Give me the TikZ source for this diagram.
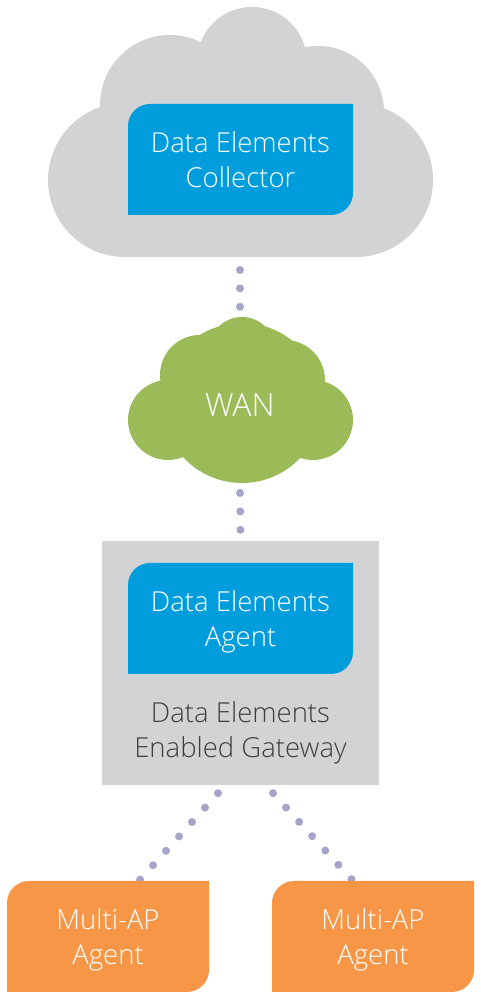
\documentclass[tikz,border=0pt]{standalone}
\usepackage{fontspec}
\setmainfont{Open Sans Light}
\usetikzlibrary{backgrounds}
\definecolor{cloudgray}{HTML}{D1D3D4}
\definecolor{deblue}{HTML}{009DDC}
\definecolor{wangreen}{HTML}{9BBB59}
\definecolor{maporange}{HTML}{F79646}
\definecolor{linkdot}{HTML}{A5A5C9}
\definecolor{gwtext}{HTML}{404040}

\begin{document}
\begin{tikzpicture}[x=1pt,y=1pt,
    leaf/.style={minimum width=225pt,minimum height=111pt,inner sep=0pt,
      text=white,align=center,text depth=0pt,font=\fontsize{27.5}{35}\selectfont,
      path picture={\path[fill=#1] (path picture bounding box.south west)
        -- ([yshift=-22pt]path picture bounding box.north west)
        arc[start angle=180,end angle=90,radius=22pt]
        -- (path picture bounding box.north east)
        -- ([yshift=22pt]path picture bounding box.south east)
        arc[start angle=0,end angle=-90,radius=22pt] -- cycle;}},
    dotlink/.style={draw=linkdot,line width=8pt,line cap=round,
      dash pattern=on 0pt off #1},
    dotlink/.default=18.4pt]
    \useasboundingbox (0,0) rectangle (481,1000);
    \begin{scope}
      \path[fill=cloudgray] (125,820) circle[radius=77] (356,820) circle[radius=77]
        (170,895) circle[radius=70] (252,938) circle[radius=55] (318,888) circle[radius=66];
      \path[fill=cloudgray] (120,743) rectangle (360,900);
      \node[leaf=deblue] (collector) at (240.5,840.5) {Data Elements\\Collector};
      \coordinate (cloudbase) at (240,730);
    \end{scope}
    \begin{scope}
      \path[fill=wangreen] (242,650) circle[radius=33] (200,625) circle[radius=40]
        (285,620) circle[radius=40] (168,580) circle[radius=40]
        (313,580) circle[radius=40] (242,597) circle[radius=80];
      \node[text=white,font=\fontsize{32}{38}\selectfont] (wan) at (240,595) {WAN};
      \coordinate (wantop) at (240,693);
      \coordinate (wanbase) at (240,507);
    \end{scope}
    \begin{scope}
      \node[fill=cloudgray,minimum width=277pt,minimum height=244pt] (gateway) at (240.5,337) {};
      \node[leaf=deblue] (agent) at (240.5,381.5) {Data Elements\\Agent};
      \node[text=gwtext,align=center,font=\fontsize{27.5}{35}\selectfont] (gwlabel) at (240.5,267)
        {Data Elements\\Enabled Gateway};
      \coordinate (gwtop) at ([yshift=11pt]gateway.north);
      \coordinate (gwleft) at ([shift={(-22.5pt,-8pt)}]gateway.south);
      \coordinate (gwright) at ([shift={(32.5pt,-8pt)}]gateway.south);
    \end{scope}
    \begin{scope}
      \node[leaf=maporange,minimum width=202pt] (map1) at (108,63.5) {Multi-AP\\Agent};
      \node[leaf=maporange,minimum width=202pt] (map2) at (373,63.5) {Multi-AP\\Agent};
      \coordinate (map1top) at ([shift={(32pt,1pt)}]map1.north);
      \coordinate (map2top) at ([shift={(-21pt,1pt)}]map2.north);
    \end{scope}
    \begin{scope}[on background layer]
      \draw[dotlink] (cloudbase) -- (wantop);
      \draw[dotlink] (wanbase) -- (gwtop);
      \draw[dotlink=19.4pt] (gwleft) -- (map1top);
      \draw[dotlink=19.4pt] (gwright) -- (map2top);
    \end{scope}
  \end{tikzpicture}
\end{document}
